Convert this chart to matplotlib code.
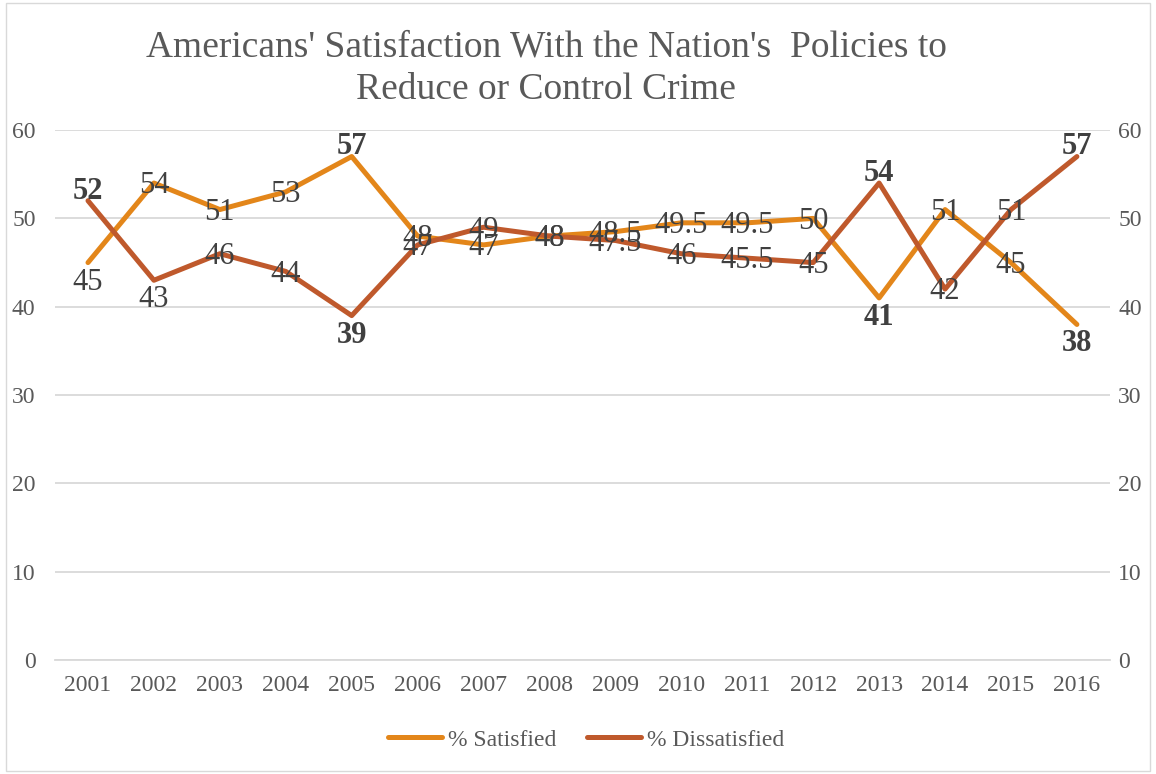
import matplotlib.pyplot as plt
from matplotlib.patches import Rectangle

# Data
years = ['2001', '2002', '2003', '2004', '2005', '2006', '2007', '2008',
         '2009', '2010', '2011', '2012', '2013', '2014', '2015', '2016']
satisfied = [45, 54, 51, 53, 57, 48, 47, 48, 48.5, 49.5, 49.5, 50, 41, 51, 45, 38]
dissatisfied = [52, 43, 46, 44, 39, 47, 49, 48, 47.5, 46, 45.5, 45, 54, 42, 51, 57]

# label placement: c = centred, a = above, b = below
sat_pos = ['b', 'c', 'c', 'c', 'a', 'c', 'c', 'c', 'c', 'c', 'c', 'c', 'b', 'c', 'c', 'b']
dis_pos = ['a', 'b', 'c', 'c', 'b', 'c', 'c', 'c', 'c', 'c', 'c', 'c', 'a', 'c', 'c', 'a']
sat_bold = [4, 12, 15]
dis_bold = [0, 4, 12, 15]

c_sat = '#E3861A'
c_dis = '#BF592C'
txt = '#404040'
grey = '#595959'

plt.rcParams['font.family'] = ['Liberation Serif', 'DejaVu Serif']

fig = plt.figure(figsize=(11.56, 7.74), dpi=100)
ax = fig.add_axes([0.0476, 0.147, 0.9125, 0.685])

x = list(range(len(years)))
ax.plot(x, satisfied, color=c_sat, lw=3.6, solid_capstyle='round', label='% Satisfied', zorder=3)
ax.plot(x, dissatisfied, color=c_dis, lw=3.6, solid_capstyle='round', label='% Dissatisfied', zorder=3)

offs = {'a': 7, 'b': -14, 'c': -2}

def put_labels(vals, pos, bold):
    for i, v in enumerate(vals):
        s = ('%g' % v)
        ax.annotate(s, (i, v), xytext=(0, offs[pos[i]]), textcoords='offset points',
                    ha='center', va='center', fontsize=22, color=txt,
                    fontweight='bold' if i in bold else 'normal', zorder=4)

put_labels(satisfied, sat_pos, sat_bold)
put_labels(dissatisfied, dis_pos, dis_bold)

ax.set_xlim(-0.5, 15.5)
ax.set_ylim(0, 60)
ax.set_xticks(x)
ax.set_xticklabels(years)
ax.set_yticks(range(0, 61, 10))
ax.grid(axis='y', color='#D9D9D9', lw=1.3)
ax.set_axisbelow(True)
for sp in ['top', 'left', 'right']:
    ax.spines[sp].set_visible(False)
ax.spines['bottom'].set_color('#D9D9D9')
ax.spines['bottom'].set_linewidth(1.3)
ax.tick_params(axis='both', length=0, labelsize=17, colors=grey)
ax.tick_params(axis='x', pad=11)
ax.tick_params(axis='y', pad=14)

ax2 = ax.twinx()
ax2.set_ylim(0, 60)
ax2.set_yticks(range(0, 61, 10))
for sp in ax2.spines.values():
    sp.set_visible(False)
ax2.tick_params(axis='y', length=0, labelsize=17, colors=grey, pad=6)

fig.text(0.4725, 0.912, "Americans' Satisfaction With the Nation's  Policies to\nReduce or Control Crime",
         ha='center', va='center', fontsize=27, color=grey, linespacing=1.3)

fig.legend(loc='center', bbox_to_anchor=(0.507, 0.044), ncol=2, frameon=False,
           fontsize=17, labelcolor=grey, handlelength=2.3, columnspacing=1.3, handletextpad=0.25)

fig.patches.append(Rectangle((0.005, 0.004), 0.99, 0.992, transform=fig.transFigure,
                             fill=False, edgecolor='#D9D9D9', lw=1))

fig.savefig('out.png', dpi=100)
